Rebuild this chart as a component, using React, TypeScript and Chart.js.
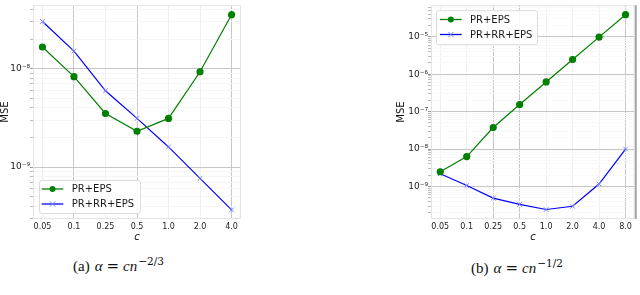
import React, { useEffect, useRef } from 'react';
import { Chart, registerables } from 'chart.js';
Chart.register(...registerables);

const seriesNames = ['PR+EPS', 'PR+RR+EPS'];

const catsA = ['0.05', '0.1', '0.25', '0.5', '1.0', '2.0', '4.0'];
const prEpsA = [1.66e-8, 8.3e-9, 3.5e-9, 2.31e-9, 3.12e-9, 9.3e-9, 3.54e-8];
const prRrEpsA = [3.02e-8, 1.51e-8, 5.96e-9, 3.12e-9, 1.6e-9, 7.67e-10, 3.66e-10];
const yRangeA = [2.96e-10, 4.42e-8];
const darkGridA = [1, 3, 6];

const catsB = ['0.05', '0.1', '0.25', '0.5', '1.0', '2.0', '4.0', '8.0'];
const prEpsB = [2.47e-9, 6.3e-9, 3.75e-8, 1.55e-7, 6.2e-7, 2.47e-6, 9.8e-6, 3.88e-5];
const prRrEpsB = [2.19e-9, 1.06e-9, 4.87e-10, 3.33e-10, 2.42e-10, 2.95e-10, 1.16e-9, 1.0e-8];
const yRangeB = [1.35e-10, 6.97e-5];
const darkGridB = [2, 3, 7];

const GREEN = '#008000';
const BLUE = '#0000ff';
const BLUE_MARK = '#7f7fff';
const FONT = '"DejaVu Sans", sans-serif';

const SUP: Record<string, string> = { '-': '⁻', '0': '⁰', '1': '¹', '2': '²', '3': '³', '4': '⁴', '5': '⁵', '6': '⁶', '7': '⁷', '8': '⁸', '9': '⁹' };
const isDecade = (v: number) => {
  const l = Math.log10(v);
  return Math.abs(l - Math.round(l)) < 1e-6;
};
const supLabel = (v: number) => '10' + String(Math.round(Math.log10(v))).split('').map((c) => SUP[c] || c).join('');
const logTicks = (min: number, max: number) => {
  const out: number[] = [];
  for (let e = Math.floor(Math.log10(min)); e <= Math.ceil(Math.log10(max)); e++) {
    for (let m = 1; m <= 9; m++) {
      const v = m * Math.pow(10, e);
      if (v >= min && v <= max) out.push(v);
    }
  }
  return out;
};

const legendPlugin = {
  id: 'boxLegend',
  afterDraw(chart: any, _args: any, opts: any) {
    const { ctx, chartArea } = chart;
    const w = 101;
    const h = opts.h;
    const x0 = chartArea.left + opts.dx;
    const y0 = opts.corner === 'bl' ? chartArea.bottom - opts.dy - h : chartArea.top + opts.dy;
    ctx.save();
    ctx.beginPath();
    if (ctx.roundRect) ctx.roundRect(x0 + 0.5, y0 + 0.5, w, h, 2.5);
    else ctx.rect(x0 + 0.5, y0 + 0.5, w, h);
    ctx.fillStyle = 'rgba(255,255,255,0.85)';
    ctx.fill();
    ctx.strokeStyle = '#dcdcdc';
    ctx.lineWidth = 1;
    ctx.stroke();
    chart.data.datasets.forEach((ds: any, i: number) => {
      const cy = y0 + opts.row0 + i * 15;
      ctx.beginPath();
      ctx.moveTo(x0 + opts.lx0, cy);
      ctx.lineTo(x0 + opts.lx1, cy);
      ctx.strokeStyle = ds.borderColor;
      ctx.lineWidth = 1.3;
      ctx.stroke();
      const mx = (x0 + opts.lx0 + x0 + opts.lx1) / 2;
      if (ds.pointStyle === 'circle') {
        ctx.beginPath();
        ctx.arc(mx, cy, 3, 0, Math.PI * 2);
        ctx.fillStyle = ds.pointBackgroundColor;
        ctx.fill();
      } else {
        ctx.beginPath();
        const r = 2.6;
        ctx.moveTo(mx - r, cy - r);
        ctx.lineTo(mx + r, cy + r);
        ctx.moveTo(mx - r, cy + r);
        ctx.lineTo(mx + r, cy - r);
        ctx.strokeStyle = ds.pointBorderColor;
        ctx.lineWidth = 1;
        ctx.stroke();
      }
      ctx.fillStyle = '#1a1a1a';
      ctx.font = '10px ' + FONT;
      ctx.textBaseline = 'middle';
      ctx.textAlign = 'left';
      ctx.fillText(ds.label, x0 + opts.tx, cy + 0.5);
    });
    ctx.restore();
  },
};

const framePlugin = {
  id: 'frame',
  beforeDatasetsDraw(chart: any, _a: any, opts: any) {
    const { ctx, chartArea } = chart;
    ctx.save();
    ctx.strokeStyle = '#e4e4e4';
    ctx.lineWidth = 1;
    ctx.strokeRect(chartArea.left + 0.5, chartArea.top + 0.5, chartArea.right - chartArea.left - 1, chartArea.bottom - chartArea.top - 1);
    if (opts.darkRight) {
      ctx.strokeStyle = '#a8a8a8';
      ctx.lineWidth = 2;
      ctx.beginPath();
      ctx.moveTo(chartArea.right + 1, chartArea.top);
      ctx.lineTo(chartArea.right + 1, chartArea.bottom);
      ctx.stroke();
    }
    ctx.restore();
  },
};

function makeConfig(p: any): any {
  const n = p.cats.length;
  const m = 0.05 * (n - 1);
  return {
    type: 'line',
    data: {
      labels: p.cats,
      datasets: [
        {
          label: seriesNames[0],
          data: p.s1.map((v: number, i: number) => ({ x: i, y: v })),
          borderColor: GREEN,
          backgroundColor: GREEN,
          pointBackgroundColor: GREEN,
          pointBorderColor: GREEN,
          pointStyle: 'circle',
          pointRadius: 3,
          borderWidth: 1.2,
          tension: 0,
        },
        {
          label: seriesNames[1],
          data: p.s2.map((v: number, i: number) => ({ x: i, y: v })),
          borderColor: BLUE,
          backgroundColor: BLUE,
          pointBackgroundColor: BLUE_MARK,
          pointBorderColor: BLUE_MARK,
          pointStyle: 'crossRot',
          pointRadius: 3.3,
          pointBorderWidth: 1,
          borderWidth: 1.2,
          tension: 0,
        },
      ],
    },
    options: {
      animation: false,
      responsive: false,
      maintainAspectRatio: false,
      layout: { padding: { left: 0, top: 0, right: p.padRight, bottom: 0 } },
      plugins: {
        legend: { display: false },
        tooltip: { enabled: false },
        boxLegend: p.legend,
        frame: { darkRight: p.darkRight },
      },
      scales: {
        x: {
          type: 'linear',
          min: -m,
          max: n - 1 + m,
          bounds: 'data',
          afterBuildTicks: (s: any) => {
            s.ticks = p.cats.map((_: string, i: number) => ({ value: i }));
          },
          afterFit: (s: any) => {
            s.height = 26;
            s.paddingLeft = 0;
            s.paddingRight = 0;
          },
          ticks: {
            autoSkip: false,
            maxRotation: 0,
            minRotation: 0,
            padding: 3,
            color: '#222',
            font: { family: FONT, size: 8 },
            callback: (_v: any, i: number) => p.cats[i] ?? '',
          },
          grid: {
            drawTicks: false,
            tickLength: 0,
            lineWidth: 1,
            color: (c: any) => (c.tick && p.dark.includes(c.tick.value) ? '#c6c6c6' : '#efefef'),
          },
          border: { display: false },
          title: {
            display: true,
            text: 'c',
            color: '#111',
            font: { family: FONT, size: 10, style: 'italic', lineHeight: 1.2 },
            padding: { top: 0, bottom: 2 },
          },
        },
        y: {
          type: 'logarithmic',
          min: p.yr[0],
          max: p.yr[1],
          bounds: 'data',
          afterBuildTicks: (s: any) => {
            s.ticks = logTicks(p.yr[0], p.yr[1]).map((v) => ({ value: v }));
          },
          afterFit: (s: any) => {
            s.width = p.yw;
            s.paddingTop = 0;
            s.paddingBottom = 0;
          },
          ticks: {
            autoSkip: false,
            padding: 0,
            color: '#222',
            font: { family: FONT, size: 9 },
            callback: (v: any) => (isDecade(Number(v)) ? supLabel(Number(v)) : ''),
          },
          grid: {
            tickLength: 3,
            lineWidth: 1,
            color: (c: any) => (c.tick && isDecade(c.tick.value) ? '#c6c6c6' : p.minorGrid),
            tickColor: (c: any) => (c.tick && isDecade(c.tick.value) ? '#999' : '#bbb'),
          },
          border: { display: false },
          title: {
            display: true,
            text: 'MSE',
            color: '#111',
            font: { family: FONT, size: 10, lineHeight: 1 },
            padding: { top: p.titlePad, bottom: 0 },
          },
        },
      },
    },
    plugins: [legendPlugin, framePlugin],
  };
}

function LogChart(props: any) {
  const ref = useRef<HTMLCanvasElement>(null);
  useEffect(() => {
    const chart = new Chart(ref.current as HTMLCanvasElement, makeConfig(props.cfg));
    return () => chart.destroy();
  }, []);
  return (
    <canvas
      ref={ref}
      width={props.w}
      height={245}
      style={{ position: 'absolute', left: props.left, top: 0, width: props.w, height: 245 }}
    />
  );
}

const capStyle: React.CSSProperties = {
  position: 'absolute',
  top: 257,
  textAlign: 'center',
  fontFamily: '"Liberation Serif", "Times New Roman", serif',
  fontSize: 15,
  lineHeight: '18px',
  color: '#111',
  whiteSpace: 'nowrap',
};
const supStyle: React.CSSProperties = { fontFamily: '"DejaVu Serif", serif', fontSize: 10.5, position: 'relative', top: -6, marginLeft: 1 };
const eqStyle: React.CSSProperties = { fontFamily: '"DejaVu Serif", serif', margin: '0 4px' };

export default function App() {
  const cfgA = {
    cats: catsA, s1: prEpsA, s2: prRrEpsA, yr: yRangeA, dark: darkGridA, yw: 33, titlePad: 0, padRight: 9,
    darkRight: false, minorGrid: '#f5f5f5',
    legend: { corner: 'bl', dx: 6, dy: 6, h: 33, row0: 9, lx0: 2.7, lx1: 24.3, tx: 32.7 },
  };
  const cfgB = {
    cats: catsB, s1: prEpsB, s2: prRrEpsB, yr: yRangeB, dark: darkGridB, yw: 41, titlePad: 6, padRight: 2,
    darkRight: true, minorGrid: '#f9f9f9',
    legend: { corner: 'tl', dx: 5, dy: 5, h: 34, row0: 9.3, lx0: 4, lx1: 25.7, tx: 34 },
  };
  return (
    <div style={{ position: 'absolute', left: 0, top: 0, width: 640, height: 295, background: '#fff', overflow: 'hidden' }}>
      <LogChart cfg={cfgA} left={0} w={250} />
      <LogChart cfg={cfgB} left={390} w={250} />
      <div style={{ ...capStyle, left: 0, width: 237 }}>
        (a)<span style={{ marginLeft: 5 }}><i>α</i></span>
        <span style={eqStyle}>=</span>
        <i>cn</i>
        <span style={supStyle}>−2/3</span>
      </div>
      <div style={{ ...capStyle, left: 417, width: 200, top: 259 }}>
        (b)<span style={{ marginLeft: 5 }}><i>α</i></span>
        <span style={eqStyle}>=</span>
        <i>cn</i>
        <span style={supStyle}>−1/2</span>
      </div>
    </div>
  );
}
